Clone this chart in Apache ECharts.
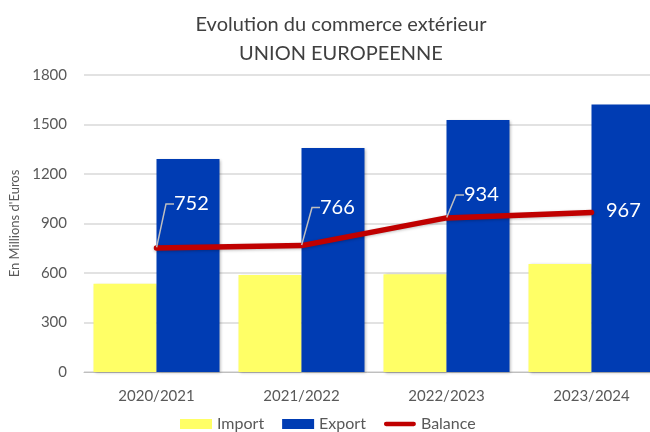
<!DOCTYPE html>
<html>
<head>
<meta charset="utf-8">
<script src="https://cdn.jsdelivr.net/npm/echarts@6/dist/echarts.min.js"></script>
<style>
    html, body { margin: 0; padding: 0; background: #ffffff; }
    #char1 { width: 650px; height: 432px; }
</style>
</head>
<body>
<div id="char1"></div>
<script>
var categories = ["2020/2021", "2021/2022", "2022/2023", "2023/2024"];
var importValues = [535, 588, 592, 654];
var exportValues = [1291, 1358, 1528, 1621];
var balanceValues = [752, 766, 934, 967];
// label shifts for the balance values (dx, dy)
var labelShift = [[12, -44], [13, -38], [12, -23], [9, -2]];

char1();

function char1() {
    var myChart = echarts.init(document.getElementById("char1"));
    var font = "Lato, 'DejaVu Sans', sans-serif";

    var balanceData = balanceValues.map(function (v, i) {
        var item = { value: v };
        if (i === balanceValues.length - 1) {
            item.labelLine = { show: false };
        }
        return item;
    });

    var option = {
        animation: false,
        textStyle: { fontFamily: font },
        title: {
            text: "Evolution du commerce extérieur\nUNION EUROPEENNE",
            left: 336,
            top: 5,
            textAlign: "center",
            textStyle: {
                color: "#404040",
                fontSize: 20,
                fontWeight: "normal",
                lineHeight: 29,
                fontFamily: font,
            },
        },
        legend: {
            bottom: -5,
            left: 175,
            itemWidth: 32,
            itemHeight: 10,
            itemGap: 18,
            textStyle: { color: "#595959", fontSize: 16, fontFamily: font },
            data: [
                { name: "Import", icon: "rect" },
                { name: "Export", icon: "rect" },
                { name: "Balance", icon: "path://M2,0 L34,0 A2.5,2.5 0 0 1 34,5 L2,5 A2.5,2.5 0 0 1 2,0 Z" },
            ],
        },
        grid: {
            left: 84,
            top: 75,
            width: 580,
            height: 297,
            outerBoundsMode: "none",
            containLabel: false,
        },
        xAxis: {
            type: "category",
            data: categories,
            axisTick: { show: false },
            axisLine: { lineStyle: { color: "#bfbfbf" } },
            axisLabel: { color: "#595959", fontSize: 15, margin: 17, fontFamily: font },
        },
        yAxis: {
            type: "value",
            min: 0,
            max: 1800,
            interval: 300,
            name: "En Millions d'Euros",
            nameLocation: "middle",
            nameGap: 63,
            nameTextStyle: { color: "#595959", fontSize: 13, fontFamily: font },
            axisLine: { show: false },
            axisTick: { show: false },
            axisLabel: {
                color: "#595959",
                fontSize: 15,
                margin: 17,
                fontFamily: font,
                formatter: function (v) { return String(v); },
            },
            splitLine: { lineStyle: { color: "#d9d9d9", width: 1.5 } },
        },
        series: [
            {
                name: "Import",
                type: "bar",
                barGap: "0%",
                barWidth: 63,
                data: importValues,
                itemStyle: {
                    color: "#ffff66",
                    shadowColor: "rgba(0,0,0,0.3)",
                    shadowBlur: 3,
                    shadowOffsetX: 1,
                    shadowOffsetY: 1,
                },
            },
            {
                name: "Export",
                type: "bar",
                barWidth: 63,
                data: exportValues,
                itemStyle: {
                    color: "#003cb3",
                    shadowColor: "rgba(0,0,0,0.3)",
                    shadowBlur: 3,
                    shadowOffsetX: 1,
                    shadowOffsetY: 1,
                },
            },
            {
                name: "Balance",
                type: "line",
                data: balanceData,
                symbol: "circle",
                symbolSize: 1,
                showSymbol: true,
                lineStyle: {
                    color: "#c00000",
                    width: 5.5,
                    cap: "round",
                    shadowColor: "rgba(0,0,0,0.25)",
                    shadowBlur: 3,
                    shadowOffsetY: 1,
                },
                itemStyle: { color: "#c00000" },
                label: {
                    show: true,
                    position: "right",
                    color: "#ffffff",
                    fontSize: 20,
                    fontFamily: font,
                    // trailing spaces widen the label box so the guide line attaches on its left side
                    formatter: "{c}     ",
                },
                labelLine: {
                    show: true,
                    length2: 8,
                    lineStyle: { color: "#bfbfbf", width: 1.5 },
                },
                labelLayout: function (params) {
                    var s = labelShift[params.dataIndex];
                    return { dx: s[0], dy: s[1] };
                },
            },
        ],
    };

    myChart.setOption(option);
    window.addEventListener("resize", function () {
        myChart.resize();
    });
}
</script>
</body>
</html>
